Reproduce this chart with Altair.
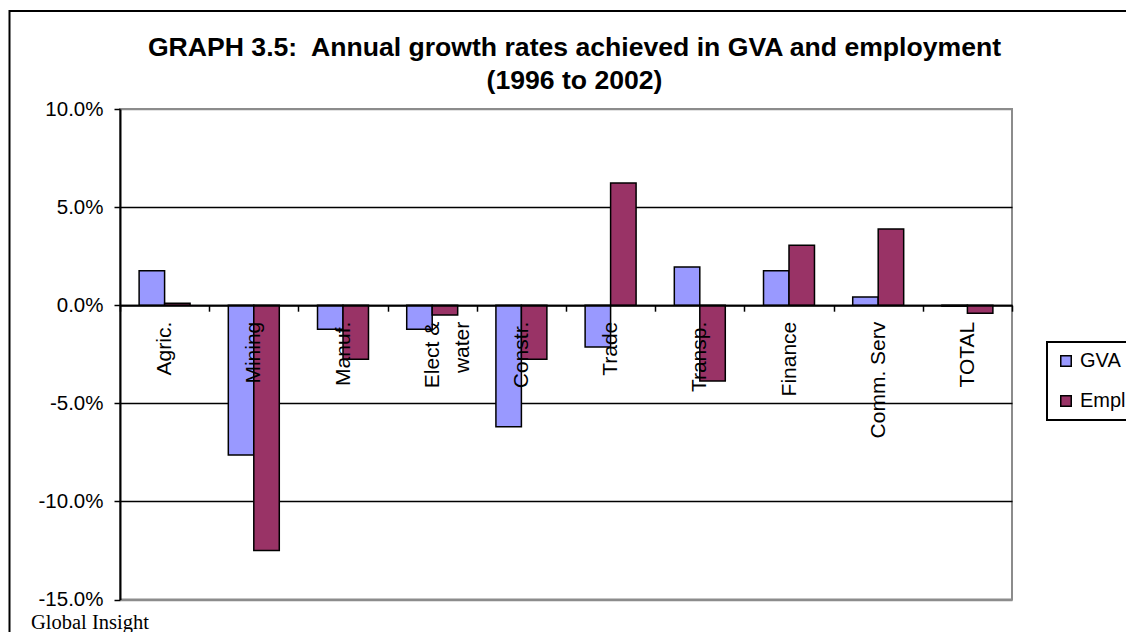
import altair as alt
import pandas as pd

# Sector categories (x axis), series names and growth rates in percent
categories = ["Agric.", "Mining", "Manuf.", "Elect &\nwater", "Constr.", "Trade",
              "Transp.", "Finance", "Comm. Serv", "TOTAL"]
series_names = ["GVA", "Empl"]
gva_growth = [1.75, -7.63, -1.22, -1.22, -6.20, -2.13, 1.95, 1.75, 0.42, -0.05]
empl_growth = [0.10, -12.50, -2.75, -0.50, -2.75, 6.23, -3.86, 3.06, 3.89, -0.41]
series_colors = ["#9999FF", "#993366"]
y_ticks = [-15, -10, -5, 0, 5, 10]
title_lines = ["GRAPH 3.5:\u00a0 Annual growth rates achieved in GVA and employment",
               "(1996 to 2002)"]
source_note = "Global Insight"

rows = []
for sector, g, e in zip(categories, gva_growth, empl_growth):
    rows.append({"sector": sector, "series": "GVA", "growth": g})
    rows.append({"sector": sector, "series": "Empl", "growth": e})
df = pd.DataFrame(rows)
one_row = pd.DataFrame({"k": [0]})

W, H = 892, 490.5
Y_MIN, Y_MAX = -15, 10
# pull the category axis up so that it sits on the 0% line
zero_offset = -H * (0 - Y_MIN) / (Y_MAX - Y_MIN)

FONT = "Liberation Sans"

bars = alt.Chart(df).mark_bar(stroke="black", strokeWidth=1.5).encode(
    x=alt.X(
        "sector:N", sort=categories,
        scale=alt.Scale(paddingInner=0, paddingOuter=0),
        axis=alt.Axis(
            title=None, orient="bottom", offset=zero_offset, zindex=1,
            domainColor="black", domainWidth=2,
            tickColor="black", tickWidth=1.5, tickSize=6, tickBand="extent",
            labelAngle=270, labelAlign="right", labelBaseline="middle",
            labelPadding=10, labelFontSize=21, labelFont=FONT, labelColor="black",
            labelLineHeight=30, labelOverlap=False,
            labelExpr="split(datum.label, '\\n')", grid=False,
        ),
    ),
    xOffset=alt.XOffset(
        "series:N", sort=series_names,
        scale=alt.Scale(paddingInner=0, paddingOuter=0.75),
    ),
    y=alt.Y(
        "growth:Q",
        scale=alt.Scale(domain=[Y_MIN, Y_MAX], nice=False),
        axis=alt.Axis(
            title=None, values=y_ticks,
            labelExpr="replace(format(datum.value, '.1f'), '\u2212', '-') + '%'",
            grid=True, gridWidth=1.5,
            gridColor={"condition": {"test": "datum.value >= 10 || datum.value <= -15",
                                     "value": "#8c8c8c"},
                       "value": "black"},
            domainColor="black", domainWidth=2,
            tickColor="black", tickSize=6, tickWidth=1.5,
            labelFontSize=20.5, labelFont=FONT, labelColor="black", labelPadding=11,
        ),
    ),
    color=alt.Color(
        "series:N", sort=series_names,
        scale=alt.Scale(domain=series_names, range=series_colors),
        legend=alt.Legend(
            title=None, orient="none", legendX=927, legendY=233,
            direction="vertical", strokeColor="black", fillColor="white",
            padding=9, symbolType="square", symbolSize=110,
            symbolStrokeColor="black", symbolStrokeWidth=1.5,
            labelFontSize=20, labelFont=FONT, labelColor="black",
            rowPadding=20, labelOffset=4,
        ),
    ),
)

# outer border of the chart area
frame = alt.Chart(one_row).mark_rect(fillOpacity=0, stroke="black", strokeWidth=2).encode(
    x=alt.value(-110.5), x2=alt.value(1100), y=alt.value(-98), y2=alt.value(700)
)

title = alt.Chart(one_row).mark_text(
    align="center", baseline="alphabetic", font=FONT, fontSize=26.6,
    fontWeight="bold", lineHeight=33, color="black",
).encode(x=alt.value(454.5), y=alt.value(-53), text=alt.value(title_lines))

note = alt.Chart(one_row).mark_text(
    align="left", baseline="alphabetic", font="Liberation Serif",
    fontSize=20.5, color="black",
).encode(x=alt.value(-89), y=alt.value(520), text=alt.value(source_note))

chart = alt.layer(frame, bars, title, note).properties(
    width=W, height=H,
    autosize=alt.AutoSizeParams(type="none"),
    padding={"left": 120, "top": 109, "right": 114, "bottom": 32.5},
).configure_view(
    stroke="#8c8c8c", strokeWidth=2
).configure_legend(
    strokeWidth=2
)

chart.save("out.html", embed_options={"renderer": "svg", "actions": False})
